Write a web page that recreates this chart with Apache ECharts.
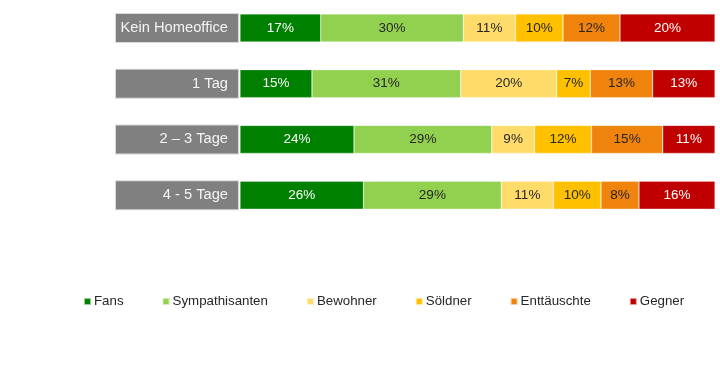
<!DOCTYPE html>
<html><head><meta charset="utf-8">
<script src="https://cdn.jsdelivr.net/npm/echarts@6/dist/echarts.min.js"></script>
<style>html,body{margin:0;padding:0;background:#fff}#c{width:720px;height:380px}</style>
</head><body><div id="c"></div>
<script>
var categories = ['Kein Homeoffice', '1 Tag', '2 – 3 Tage', '4 - 5 Tage'];
var seriesNames = ['Fans', 'Sympathisanten', 'Bewohner', 'Söldner', 'Enttäuschte', 'Gegner'];
var fans = [17, 15, 24, 26];
var sympathisanten = [30, 31, 29, 29];
var bewohner = [11, 20, 9, 11];
var soeldner = [10, 7, 12, 10];
var enttaeuschte = [12, 13, 15, 8];
var gegner = [20, 13, 11, 16];

var colors = ['#008000', '#92d050', '#ffdc6a', '#ffc000', '#ef830c', '#c00000'];
var labelColors = ['#ffffff', '#262626', '#262626', '#262626', '#262626', '#ffffff'];
var allValues = [fans, sympathisanten, bewohner, soeldner, enttaeuschte, gegner];
var rowSums = categories.map(function (c, i) {
  return allValues.reduce(function (s, arr) { return s + arr[i]; }, 0);
});

var series = seriesNames.map(function (name, k) {
  return {
    name: name, type: 'bar', stack: 'total', barWidth: 28,
    itemStyle: { color: colors[k], borderColor: 'rgba(255,255,255,0.6)', borderWidth: 0.5 },
    label: {
      show: true, position: 'inside', fontFamily: 'Liberation Sans, Arial', fontSize: 13.5,
      color: labelColors[k],
      formatter: function (p) { return allValues[k][p.dataIndex] + '%'; }
    },
    data: allValues[k].map(function (v, i) { return v / rowSums[i] * 100; })
  };
});

var chart = echarts.init(document.getElementById('c'));
chart.setOption({
  animation: false,
  color: colors,
  grid: { left: 240, right: 5, top: 0, height: 223 },
  xAxis: { type: 'value', min: 0, max: 100, show: false },
  yAxis: {
    type: 'category', data: categories, inverse: true,
    axisLine: { show: false }, axisTick: { show: false },
    axisLabel: {
      margin: 2, align: 'right', color: '#f4f4f4', fontFamily: 'Liberation Sans, Arial', fontSize: 14.7,
      backgroundColor: '#808080', borderColor: '#d9d9d9', borderWidth: 1,
      width: 112, height: 28, lineHeight: 28, padding: [0, 10, 0, 0]
    }
  },
  legend: {
    left: 78, top: 290, itemWidth: 7, itemHeight: 7, itemGap: 38,
    icon: 'rect',
    textStyle: { fontFamily: 'Liberation Sans, Arial', fontSize: 13.3, color: '#262626', padding: [0, 0, 0, -2] },
    data: seriesNames
  },
  series: series
});
</script></body></html>
